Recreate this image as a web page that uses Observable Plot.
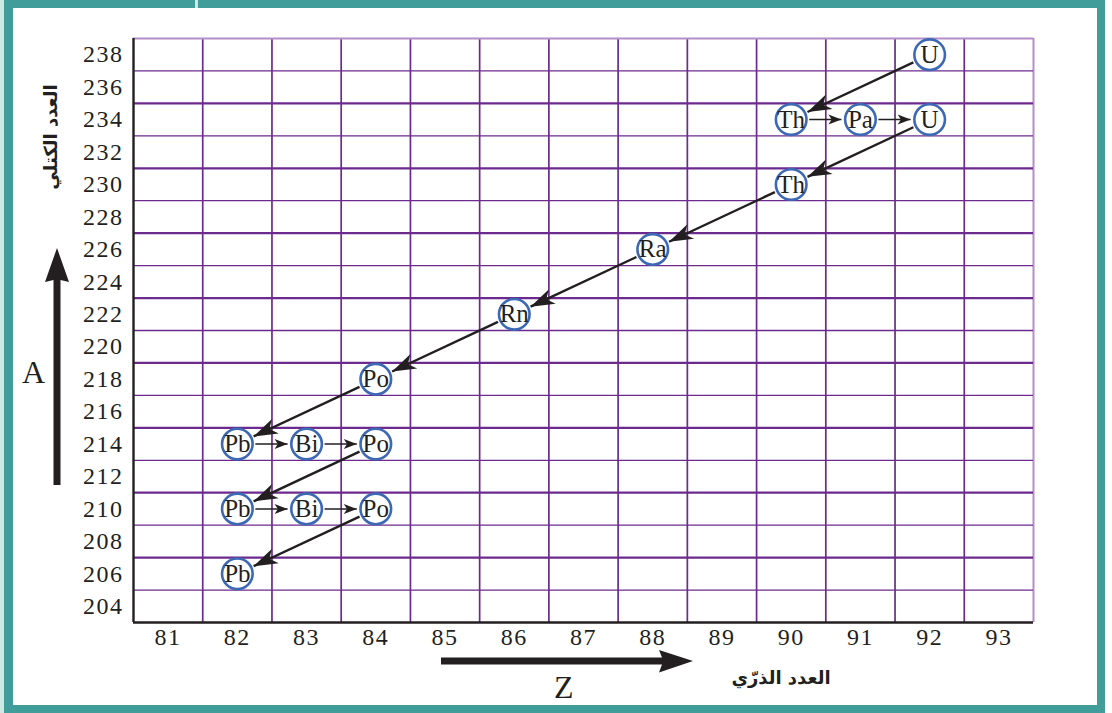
<!DOCTYPE html>
<html><head><meta charset="utf-8">
<script src="https://cdn.jsdelivr.net/npm/d3@7"></script>
<script src="https://cdn.jsdelivr.net/npm/@observablehq/plot@0.6"></script>
<style>
html,body{margin:0;padding:0;background:#fff;width:1112px;height:713px;overflow:hidden;position:relative}
#mint{position:absolute;left:0;top:0;width:5px;height:713px;background:#cfe8e2}
#notch{position:absolute;left:195px;top:0;width:3px;height:8px;background:#cfe8e2;z-index:3}
#frame{position:absolute;left:4px;top:0;width:1084px;height:697px;border:8px solid #409d9a;border-left-width:9px;z-index:2;pointer-events:none}
#chart{position:absolute;left:0;top:0;z-index:1}
.ar{position:absolute;font-family:"DejaVu Sans";font-weight:bold;font-size:18px;color:#231f20;direction:rtl;white-space:nowrap}
.lt{position:absolute;font-family:"Liberation Serif";font-size:32px;color:#231f20;line-height:1}
svg.deco{position:absolute;left:0;top:0;z-index:1}
#chart text{font-family:"Liberation Serif"}
#chart [aria-label="x-axis tick label"] text,#chart [aria-label="y-axis tick label"] text{letter-spacing:1.5px}
</style></head>
<body>
<div id="mint"></div>
<div id="frame"></div>
<div id="notch"></div>
<div id="chart"></div>
<svg class="deco" width="1112" height="713">
  <path d="M53.5,485 L53.5,280 L45,282 L57,248 L69,282 L60.5,280 L60.5,485 Z" fill="#231f20"/>
  <path d="M441,657.6 L662,657.6 L659,650 L693,661 L659,672.5 L662,664.4 L441,664.4 Z" fill="#231f20"/>
</svg>
<div class="lt" style="left:22px;top:356px">A</div>
<div class="lt" style="left:554px;top:671px">Z</div>
<div class="ar" style="left:781px;top:677px;transform:translate(-50%,-50%)">العدد الذرّي</div>
<div class="ar" style="left:50px;top:137px;transform:translate(-50%,-50%) rotate(-90deg)">العدد الكتلي</div>
<script>
// Nuclides in the U-238 decay series
const symbols = ["U","Th","Pa","U","Th","Ra","Rn","Po","Pb","Bi","Po","Pb","Bi","Po","Pb"];
const atomicNumbers = [92,90,91,92,90,88,86,84,82,83,84,82,83,84,82];
const massNumbers = [238,234,234,234,230,226,222,218,214,214,214,210,210,210,206];
// alpha decays (diagonal arrows): from index -> to index
const alphaFrom = [0,3,4,5,6,7,10,13];
const alphaTo   = [1,4,5,6,7,8,11,14];
// beta decays (horizontal arrows)
const betaFrom = [1,2,8,9,11,12];
const betaTo   = [2,3,9,10,12,13];
// ticks and grid
const zTicks = [81,82,83,84,85,86,87,88,89,90,91,92,93];
const aTicks = [204,206,208,210,212,214,216,218,220,222,224,226,228,230,232,234,236,238];
const zGrid = [81.5,82.5,83.5,84.5,85.5,86.5,87.5,88.5,89.5,90.5,91.5,92.5];
const aGridThin = [205,209,213,217,221,225,229,233,237];
const aGridThick = [207,211,215,219,223,227,231,235];

const purple = "#6c2a8e", lightPurple = "#b48ec8", ink = "#231f20", blue = "#3d68b4";
const W = 1112, H = 713, mL = 133, mR = 79, mT = 38, mB = 91;
const xDom = [80.5, 93.5], yDom = [203, 239];

const nuclides = symbols.map((s, i) => ({sym: s, z: atomicNumbers[i], a: massNumbers[i]}));

const sx = Plot.scale({x: {domain: xDom, range: [mL, W - mR]}});
const sy = Plot.scale({y: {domain: yDom, range: [H - mB, mT]}});
function links(from, to, insS, insE) {
  return from.map((f, k) => {
    const p = nuclides[f], q = nuclides[to[k]];
    const x1 = sx.apply(p.z), y1 = sy.apply(p.a), x2 = sx.apply(q.z), y2 = sy.apply(q.a);
    const d = Math.hypot(x2 - x1, y2 - y1), ux = (x2 - x1) / d, uy = (y2 - y1) / d;
    return {
      x1: sx.invert(x1 + ux * insS), y1: sy.invert(y1 + uy * insS),
      x2: sx.invert(x2 - ux * insE), y2: sy.invert(y2 - uy * insE)
    };
  });
}
const alphaLinks = links(alphaFrom, alphaTo, 18, 18);
const betaLinks = links(betaFrom, betaTo, 18, 19);

function head(L, Wd, notch) {
  return (color) => {
    const m = d3.create("svg:marker")
      .attr("viewBox", `${-L} ${-Wd / 2} ${L} ${Wd}`)
      .attr("refX", 0).attr("refY", 0)
      .attr("markerWidth", L).attr("markerHeight", Wd)
      .attr("markerUnits", "userSpaceOnUse")
      .attr("orient", "auto")
      .attr("overflow", "visible");
    m.append("path")
      .attr("d", `M0,0L${-L},${-Wd / 2}L${-L * notch},0L${-L},${Wd / 2}Z`)
      .attr("fill", ink).attr("stroke", "none");
    return m.node();
  };
}

const serif = "Liberation Serif";
const chart = Plot.plot({
  width: W, height: H,
  marginLeft: mL, marginRight: mR, marginTop: mT, marginBottom: mB,
  x: {domain: xDom, label: null},
  y: {domain: yDom, label: null},
  style: {background: "transparent", fontFamily: serif, color: ink, overflow: "visible"},
  marks: [
    Plot.ruleX(zGrid, {stroke: purple, strokeWidth: 1.7}),
    Plot.ruleX([xDom[1]], {stroke: lightPurple, strokeWidth: 2}),
    Plot.ruleY(aGridThin, {stroke: purple, strokeWidth: 1.3}),
    Plot.ruleY(aGridThick, {stroke: purple, strokeWidth: 2.3}),
    Plot.ruleY([yDom[1]], {stroke: lightPurple, strokeWidth: 2}),
    Plot.ruleX([xDom[0]], {stroke: ink, strokeWidth: 2.4}),
    Plot.ruleY([yDom[0]], {stroke: ink, strokeWidth: 2.4}),
    Plot.axisX(zTicks, {tickSize: 0, tickPadding: 5, fontSize: 24, fontFamily: serif, label: null, fill: ink}),
    Plot.axisY(aTicks, {tickSize: 0, tickPadding: 10, fontSize: 24, fontFamily: serif, label: null, fill: ink}),
    Plot.link(alphaLinks, {x1: "x1", y1: "y1", x2: "x2", y2: "y2", stroke: ink, strokeWidth: 2.4, markerEnd: head(24, 16, 0.72)}),
    Plot.link(betaLinks, {x1: "x1", y1: "y1", x2: "x2", y2: "y2", stroke: ink, strokeWidth: 1.5, markerEnd: head(13, 10, 0.75)}),
    Plot.dot(nuclides, {x: "z", y: "a", r: 15.3, stroke: blue, strokeWidth: 2.6, fill: "white"}),
    Plot.text(nuclides, {x: "z", y: "a", text: "sym", fontSize: 25, fill: ink, fontFamily: serif})
  ]
});
document.getElementById("chart").appendChild(chart);
</script>
</body></html>
